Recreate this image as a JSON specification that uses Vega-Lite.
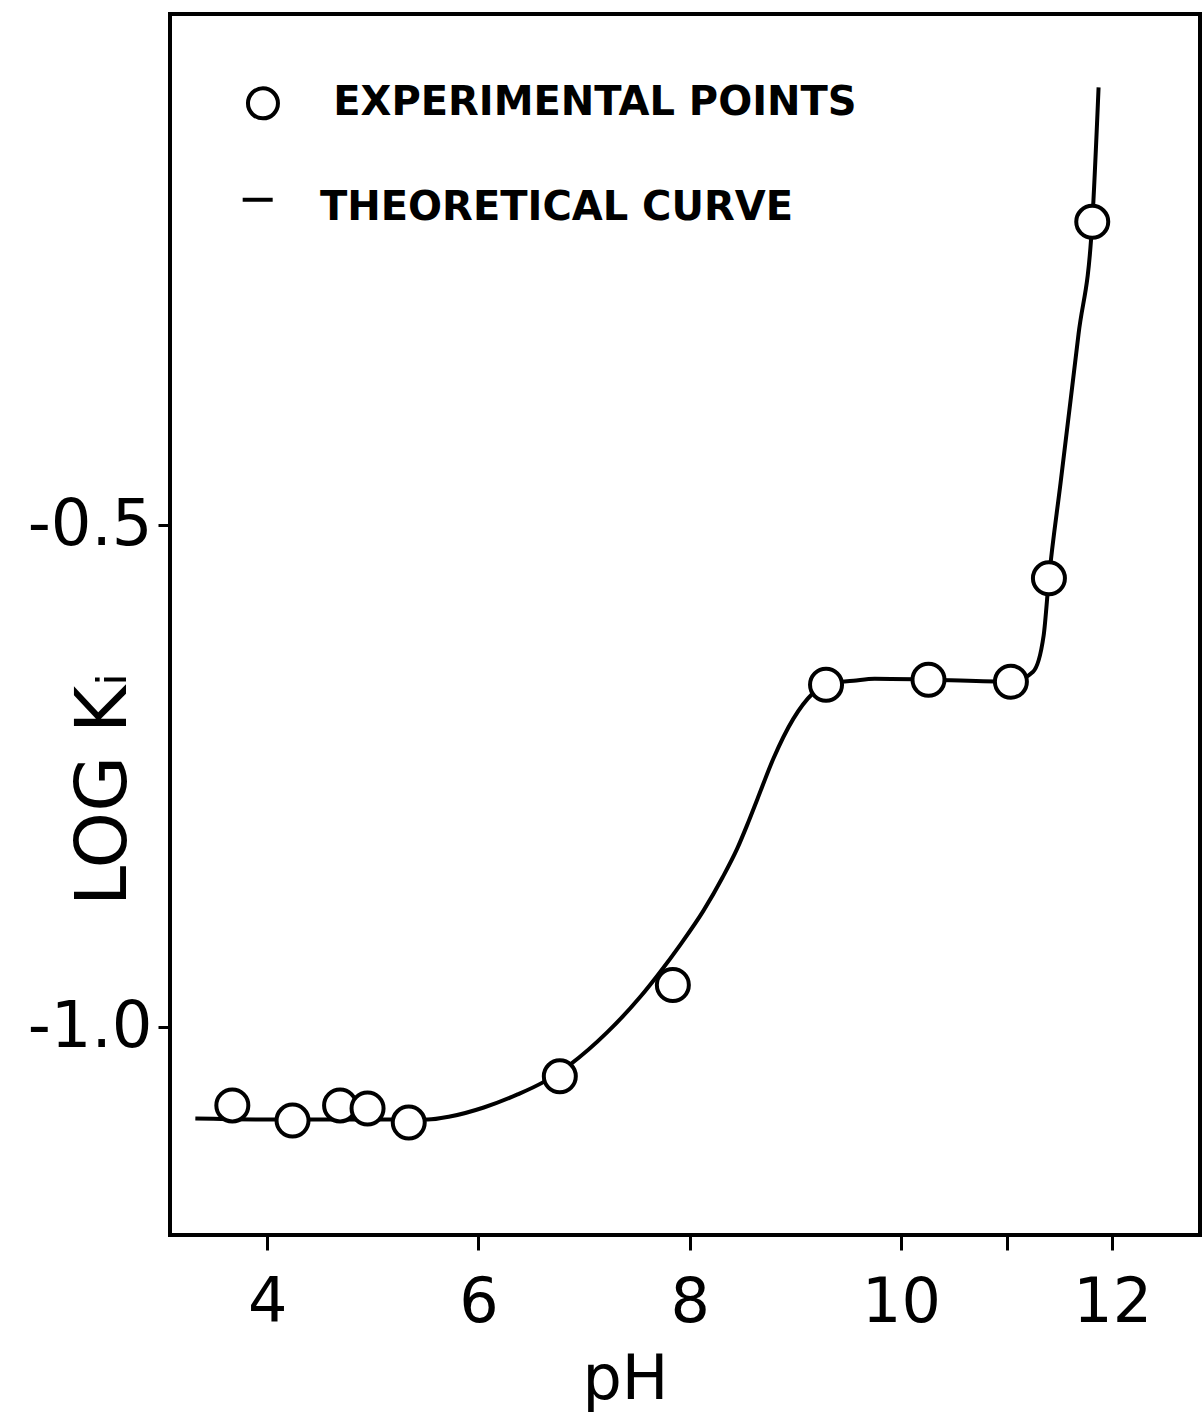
{
  "$schema": "https://vega.github.io/schema/vega-lite/v6.json",
  "autosize": {"type": "none"},
  "padding": {"left": 170, "top": 14, "right": 4, "bottom": 179},
  "width": 1030,
  "height": 1221,
  "background": "white",
  "config": {
    "view": {"stroke": "black", "strokeWidth": 4},
    "font": "DejaVu Sans"
  },
  "datasets": {
    "points": [
      {"pH": 3.67, "logK": -1.078},
      {"pH": 4.24, "logK": -1.093},
      {"pH": 4.69, "logK": -1.078},
      {"pH": 4.95, "logK": -1.081},
      {"pH": 5.34, "logK": -1.095},
      {"pH": 6.77, "logK": -1.049},
      {"pH": 7.84, "logK": -0.958},
      {"pH": 9.29, "logK": -0.659},
      {"pH": 10.26, "logK": -0.654},
      {"pH": 11.04, "logK": -0.656},
      {"pH": 11.40, "logK": -0.553},
      {"pH": 11.81, "logK": -0.198}
    ],
    "curve": [
      {"pH": 3.32, "logK": -1.091},
      {"pH": 4.0, "logK": -1.092},
      {"pH": 5.0, "logK": -1.092},
      {"pH": 5.52, "logK": -1.092},
      {"pH": 5.73, "logK": -1.089},
      {"pH": 6.05, "logK": -1.080},
      {"pH": 6.37, "logK": -1.067},
      {"pH": 6.61, "logK": -1.055},
      {"pH": 6.87, "logK": -1.037},
      {"pH": 7.22, "logK": -1.005},
      {"pH": 7.53, "logK": -0.970},
      {"pH": 7.72, "logK": -0.945},
      {"pH": 7.91, "logK": -0.918},
      {"pH": 8.13, "logK": -0.884},
      {"pH": 8.31, "logK": -0.851},
      {"pH": 8.45, "logK": -0.822},
      {"pH": 8.55, "logK": -0.797},
      {"pH": 8.64, "logK": -0.773},
      {"pH": 8.79, "logK": -0.733},
      {"pH": 8.98, "logK": -0.693},
      {"pH": 9.17, "logK": -0.667},
      {"pH": 9.28, "logK": -0.658},
      {"pH": 9.55, "logK": -0.655},
      {"pH": 9.75, "logK": -0.653},
      {"pH": 10.27, "logK": -0.654},
      {"pH": 11.04, "logK": -0.656},
      {"pH": 11.25, "logK": -0.646},
      {"pH": 11.35, "logK": -0.610},
      {"pH": 11.40, "logK": -0.553},
      {"pH": 11.51, "logK": -0.458},
      {"pH": 11.60, "logK": -0.380},
      {"pH": 11.68, "logK": -0.310},
      {"pH": 11.81, "logK": -0.198},
      {"pH": 11.87, "logK": -0.064}
    ],
    "legendSymbols": [
      {"pH": 3.96, "logK": -0.080, "symbol": "circle"},
      {"pH": 3.91, "logK": -0.176, "symbol": "stroke"}
    ],
    "legendLabels": [
      {"pH": 4.625, "logK": -0.080, "label": "EXPERIMENTAL POINTS"},
      {"pH": 4.50, "logK": -0.184, "label": "THEORETICAL CURVE"}
    ]
  },
  "encoding": {
    "x": {
      "field": "pH", "type": "quantitative",
      "scale": {"domain": [3.08, 12.83], "nice": false, "zero": false},
      "axis": {
        "title": "pH",
        "values": [4, 6, 8, 10, 11, 12],
        "labelExpr": "datum.value == 11 ? '' : datum.value",
        "domain": false, "grid": false,
        "tickColor": "black", "tickWidth": 3, "tickSize": 15,
        "labelFont": "DejaVu Sans", "labelFontSize": 62, "labelColor": "black", "labelPadding": 22,
        "titleFont": "DejaVu Sans", "titleFontSize": 62, "titleFontWeight": "normal", "titleColor": "black",
        "titleX": 455, "titleY": 163, "titleBaseline": "alphabetic"
      }
    },
    "y": {
      "field": "logK", "type": "quantitative",
      "scale": {"domain": [-1.207, 0.009], "nice": false, "zero": false},
      "axis": {
        "title": "LOG Kᵢ",
        "values": [-0.5, -1.0],
        "labelExpr": "'-' + format(abs(datum.value), '.1f')",
        "domain": false, "grid": false,
        "tickColor": "black", "tickWidth": 3, "tickSize": 12,
        "labelFont": "DejaVu Sans", "labelFontSize": 64, "labelColor": "black", "labelPadding": 6,
        "titleFont": "DejaVu Sans", "titleFontSize": 72, "titleFontWeight": "normal", "titleColor": "black",
        "titleX": -45, "titleY": 775, "titleBaseline": "alphabetic", "titleAngle": -90
      }
    }
  },
  "layer": [
    {
      "data": {"name": "curve"},
      "mark": {"type": "line", "color": "black", "strokeWidth": 4, "interpolate": "monotone"},
      "encoding": {}
    },
    {
      "data": {"name": "points"},
      "mark": {"type": "point", "shape": "circle", "filled": false, "fill": "white", "fillOpacity": 1, "stroke": "black", "strokeWidth": 4, "opacity": 1, "size": 1024},
      "encoding": {}
    },
    {
      "data": {"name": "legendSymbols"},
      "mark": {"type": "point", "filled": false, "fill": "white", "fillOpacity": 1, "stroke": "black", "strokeWidth": 4, "opacity": 1, "size": 900},
      "encoding": {
        "shape": {"field": "symbol", "type": "nominal", "scale": null, "legend": null}
      }
    },
    {
      "data": {"name": "legendLabels"},
      "mark": {"type": "text", "align": "left", "baseline": "middle", "font": "DejaVu Sans", "fontSize": 40, "fontWeight": "bold", "color": "black"},
      "encoding": {
        "text": {"field": "label", "type": "nominal"}
      }
    }
  ]
}
